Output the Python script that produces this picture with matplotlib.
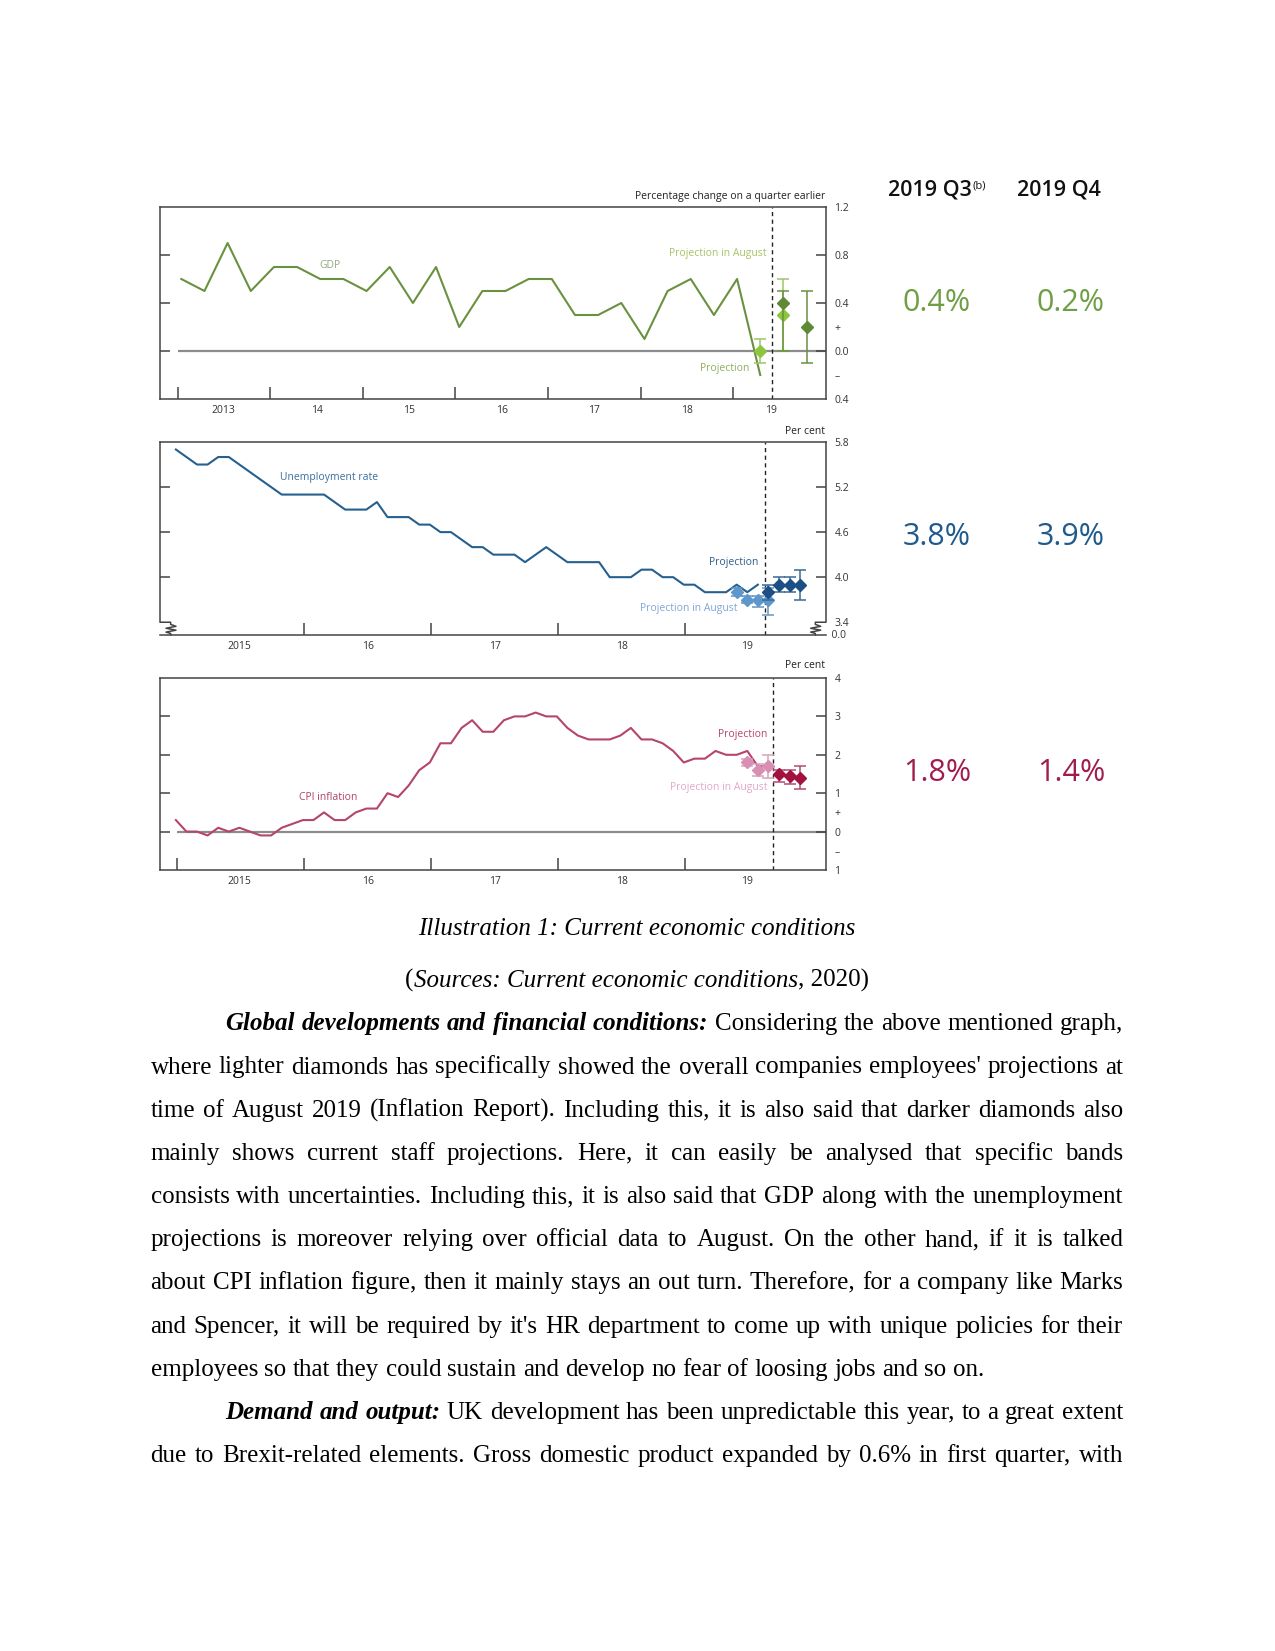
import matplotlib
matplotlib.use('Agg')
import matplotlib.pyplot as plt
import numpy as np

plt.rcParams['font.family'] = ['Open Sans', 'DejaVu Sans']

# --- Data ---
# GDP, % change on a quarter earlier, 2013 Q1 .. 2019 Q2
gdp_start = 2013
gdp = [0.6, 0.5, 0.9, 0.5, 0.7, 0.7, 0.6, 0.6, 0.5, 0.7, 0.4, 0.7,
       0.2, 0.5, 0.5, 0.6, 0.6, 0.3, 0.3, 0.4, 0.1, 0.5, 0.6, 0.3,
       0.6, -0.2]
gdp_aug_q = [25, 26]            # quarter index from 2013 Q1 (2019 Q2, Q3)
gdp_aug = [0.0, 0.3]
gdp_aug_lo = [-0.1, 0.0]
gdp_aug_hi = [0.1, 0.6]
gdp_proj_q = [26, 27]           # 2019 Q3, Q4
gdp_proj = [0.4, 0.2]
gdp_proj_lo = [0.0, -0.1]
gdp_proj_hi = [0.5, 0.5]

# Unemployment rate, per cent, monthly Jan 2015 .. Aug 2019
unemp_start = 2015
unemp = [5.7, 5.6, 5.5, 5.5, 5.6, 5.6, 5.5, 5.4, 5.3, 5.2, 5.1, 5.1,
         5.1, 5.1, 5.1, 5.0, 4.9, 4.9, 4.9, 5.0, 4.8, 4.8, 4.8, 4.7,
         4.7, 4.6, 4.6, 4.5, 4.4, 4.4, 4.3, 4.3, 4.3, 4.2, 4.3, 4.4,
         4.3, 4.2, 4.2, 4.2, 4.2, 4.0, 4.0, 4.0, 4.1, 4.1, 4.0, 4.0,
         3.9, 3.9, 3.8, 3.8, 3.8, 3.9, 3.8, 3.9]
unemp_aug_m = [53, 54, 55, 56]
unemp_aug = [3.8, 3.7, 3.7, 3.7]
unemp_aug_lo = [3.75, 3.65, 3.6, 3.5]
unemp_aug_hi = [3.85, 3.75, 3.75, 3.85]
unemp_proj_m = [56, 57, 58, 59]
unemp_proj = [3.8, 3.9, 3.9, 3.9]
unemp_proj_lo = [3.7, 3.8, 3.8, 3.7]
unemp_proj_hi = [3.9, 4.0, 4.0, 4.1]

# CPI inflation, per cent, monthly Jan 2015 .. Sep 2019
cpi_start = 2015
cpi = [0.3, 0.0, 0.0, -0.1, 0.1, 0.0, 0.1, 0.0, -0.1, -0.1, 0.1, 0.2,
       0.3, 0.3, 0.5, 0.3, 0.3, 0.5, 0.6, 0.6, 1.0, 0.9, 1.2, 1.6,
       1.8, 2.3, 2.3, 2.7, 2.9, 2.6, 2.6, 2.9, 3.0, 3.0, 3.1, 3.0,
       3.0, 2.7, 2.5, 2.4, 2.4, 2.4, 2.5, 2.7, 2.4, 2.4, 2.3, 2.1,
       1.8, 1.9, 1.9, 2.1, 2.0, 2.0, 2.1, 1.7, 1.7]
cpi_aug_m = [54, 55, 56]
cpi_aug = [1.8, 1.6, 1.7]
cpi_aug_lo = [1.7, 1.45, 1.4]
cpi_aug_hi = [1.9, 1.75, 2.0]
cpi_proj_m = [57, 58, 59]
cpi_proj = [1.5, 1.45, 1.4]
cpi_proj_lo = [1.3, 1.25, 1.1]
cpi_proj_hi = [1.6, 1.6, 1.7]

# tick labels
gdp_xlabels = ['2013', '14', '15', '16', '17', '18', '19']
monthly_xlabels = ['2015', '16', '17', '18', '19']
gdp_ylab_pos = [1.2, 0.8, 0.4, 0.2, 0.0, -0.2, -0.4]
gdp_ylabels = ['1.2', '0.8', '0.4', '+', '0.0', '\u2013', '0.4']
unemp_ylab_pos = [5.8, 5.2, 4.6, 4.0, 3.4]
unemp_ylabels = ['5.8', '5.2', '4.6', '4.0', '3.4']
cpi_ylab_pos = [4, 3, 2, 1, 0.5, 0, -0.5, -1]
cpi_ylabels = ['4', '3', '2', '1', '+', '0', '\u2013', '1']

# right-hand table
col_heads = ['2019 Q3', '2019 Q4']
q3_vals = ['0.4%', '3.8%', '1.8%']
q4_vals = ['0.2%', '3.9%', '1.4%']

W, H = 1275, 1651
fig = plt.figure(figsize=(W / 100, H / 100), dpi=100)
fig.patch.set_facecolor('white')
renderer = fig.canvas.get_renderer()


def fx(px):
    return px / W


def fy(py):
    return 1 - py / H


def box(top, bottom, left=160, right=826):
    return [fx(left), fy(bottom), (right - left) / W, (bottom - top) / H]


def qx(q):
    return gdp_start + np.asarray(q) / 4 + 0.04


def mx(m, start):
    return start + np.asarray(m) / 12 - 0.01


def setup(ax, xlim, ylim, year_ticks, label_pos, labels, ytick_marks, ylab_pos, ylabels):
    ax.set_xlim(*xlim)
    ax.set_ylim(*ylim)
    for s in ax.spines.values():
        s.set_color('#444444')
        s.set_linewidth(1.1)
    ax.xaxis.remove_overlapping_locs = False
    ax.yaxis.remove_overlapping_locs = False
    ax.set_xticks(year_ticks)
    ax.set_xticklabels([])
    ax.set_xticks(label_pos, minor=True)
    ax.set_xticklabels(labels, minor=True)
    ax.tick_params(axis='x', which='major', direction='in', length=9, width=1.1,
                   color='#444444', top=False)
    ax.tick_params(axis='x', which='minor', length=0, labelsize=7.5, pad=4,
                   labelcolor='#333333', top=False)
    ax.set_yticks(ytick_marks)
    ax.set_yticklabels([])
    ax.set_yticks(ylab_pos, minor=True)
    ax.set_yticklabels(ylabels, minor=True)
    ax.tick_params(axis='y', which='major', direction='in', length=7, width=1.1,
                   color='#444444', left=True, right=True, labelleft=False,
                   labelright=False)
    ax.tick_params(axis='y', which='minor', length=0, left=False, right=False,
                   labelleft=False, labelright=True, labelsize=7.5, pad=6,
                   labelcolor='#333333')


def proj(ax, x, y, lo, hi, color, ecolor, z):
    y = np.asarray(y)
    err = [y - np.asarray(lo), np.asarray(hi) - y]
    ax.errorbar(x, y, yerr=err, fmt='D', ms=6.5, color=color, mec=color,
                ecolor=ecolor, elinewidth=1.1, capsize=4.5, capthick=1.1, zorder=z)


# ---------------- GDP ----------------
ax1 = fig.add_axes(box(207, 399))
setup(ax1, (2012.81, 2020.0), (-0.4, 1.2), list(range(2013, 2020)),
      [2013.49, 2014.5, 2015.5, 2016.5, 2017.5, 2018.5, 2019.41], gdp_xlabels,
      [0.0, 0.4, 0.8], gdp_ylab_pos, gdp_ylabels)
ax1.hlines(0, 2013.0, 2020.0, color='#8c8c8c', lw=1.6, zorder=1)
ax1.axvline(2019.42, color='#222222', lw=1.0, ls=(0, (3, 2.5)), zorder=2)
ax1.plot(qx(np.arange(len(gdp))), gdp, color='#6a9140', lw=1.5, zorder=3)
proj(ax1, qx(gdp_aug_q), gdp_aug, gdp_aug_lo, gdp_aug_hi, '#8cc63f', '#9fc56a', 4)
proj(ax1, qx(gdp_proj_q), gdp_proj, gdp_proj_lo, gdp_proj_hi, '#5e8a34', '#6a9140', 5)
ax1.text(2014.64, 0.71, 'GDP', color='#93aa7e', fontsize=7.5, ha='center', va='center')
ax1.text(2019.36, 0.81, 'Projection in August', color='#a3c466', fontsize=7.5,
         ha='right', va='center')
ax1.text(2019.17, -0.15, 'Projection', color='#8fae5c', fontsize=7.5, ha='right',
         va='center')
fig.text(fx(825), fy(197), 'Percentage change on a quarter earlier', fontsize=7.5,
         ha='right', va='center', color='#222222')

# ---------------- Unemployment ----------------
ax2 = fig.add_axes(box(442, 635))
setup(ax2, (2014.865, 2020.11), (3.23, 5.8), list(range(2016, 2020)),
      [2015.49, 2016.5, 2017.5, 2018.5, 2019.49], monthly_xlabels,
      [4.0, 4.6, 5.2], unemp_ylab_pos, unemp_ylabels)
ax2.spines['left'].set_visible(False)
ax2.spines['right'].set_visible(False)
yb = (3.4 - 3.23) / (5.8 - 3.23)
kw = dict(transform=ax2.transAxes, color='#444444', lw=1.1, clip_on=False)
ax2.plot([0, 0, 0.016, 0.016, 0.024, 0.009, 0.024, 0.009, 0.016, 0.016],
         [1, yb, yb, 0.055, 0.045, 0.035, 0.025, 0.015, 0.008, 0], **kw)
ax2.plot([1, 1, 0.984, 0.984, 0.992, 0.977, 0.992, 0.977, 0.984, 0.984],
         [1, yb, yb, 0.055, 0.045, 0.035, 0.025, 0.015, 0.008, 0], **kw)
ax2.text(1.0, 0.0, '  0.0', transform=ax2.transAxes, fontsize=7.5, color='#333333',
         ha='left', va='center')
ax2.axvline(2019.63, color='#222222', lw=1.0, ls=(0, (3, 2.5)), zorder=2)
ax2.plot(mx(np.arange(len(unemp)), unemp_start), unemp, color='#25608f', lw=1.5, zorder=3)
proj(ax2, mx(unemp_aug_m, unemp_start), unemp_aug, unemp_aug_lo, unemp_aug_hi,
     '#5d97cc', '#6a93bd', 4)
proj(ax2, mx(unemp_proj_m, unemp_start), unemp_proj, unemp_proj_lo, unemp_proj_hi,
     '#1c4f85', '#3c6a96', 5)
ax2.text(2015.81, 5.33, 'Unemployment rate', color='#3a6f9e', fontsize=7.5,
         ha='left', va='center')
ax2.text(2019.58, 4.20, 'Projection', color='#2d5d8a', fontsize=7.5, ha='right',
         va='center')
ax2.text(2019.41, 3.58, 'Projection in August', color='#7fa7d4', fontsize=7.5,
         ha='right', va='center')
fig.text(fx(825), fy(431), 'Per cent', fontsize=7.5, ha='right', va='center',
         color='#222222')

# ---------------- CPI ----------------
ax3 = fig.add_axes(box(678, 870))
setup(ax3, (2014.865, 2020.11), (-1, 4), list(range(2015, 2020)),
      [2015.49, 2016.5, 2017.5, 2018.5, 2019.49], monthly_xlabels,
      [0, 1, 2, 3], cpi_ylab_pos, cpi_ylabels)
ax3.hlines(0, 2015.0, 2020.11, color='#8c8c8c', lw=1.6, zorder=1)
ax3.axvline(2019.69, color='#222222', lw=1.0, ls=(0, (3, 2.5)), zorder=2)
ax3.plot(mx(np.arange(len(cpi)), cpi_start), cpi, color='#b5446e', lw=1.5, zorder=3)
proj(ax3, mx(cpi_aug_m, cpi_start), cpi_aug, cpi_aug_lo, cpi_aug_hi,
     '#d98fb4', '#d7a3bd', 4)
proj(ax3, mx(cpi_proj_m, cpi_start), cpi_proj, cpi_proj_lo, cpi_proj_hi,
     '#a3123f', '#b04a6f', 5)
ax3.text(2015.96, 0.90, 'CPI inflation', color='#b0406a', fontsize=7.5, ha='left',
         va='center')
ax3.text(2019.65, 2.52, 'Projection', color='#b8446f', fontsize=7.5, ha='right',
         va='center')
ax3.text(2019.65, 1.14, 'Projection in August', color='#e0aac6', fontsize=7.5,
         ha='right', va='center')
fig.text(fx(825), fy(666), 'Per cent', fontsize=7.5, ha='right', va='center',
         color='#222222')

# ---------------- right-hand table ----------------
t = fig.text(fx(930), fy(190), col_heads[0], fontsize=15.5, weight='semibold',
             ha='center', va='center', color='#111111')
bb = t.get_window_extent(renderer)
fig.text(fx(bb.x1 + 1), (bb.y1 - 1) / H, '(b)', fontsize=8, ha='left', va='top',
         color='#111111')
fig.text(fx(1059), fy(190), col_heads[1], fontsize=15.5, weight='semibold',
         ha='center', va='center', color='#111111')
val_colors = ['#6f9f45', '#1f5a8c', '#a11c4e']
val_y = [303, 537, 773]
for v3, v4, c, y in zip(q3_vals, q4_vals, val_colors, val_y):
    fig.text(fx(937), fy(y), v3, fontsize=22, ha='center', va='center', color=c)
    fig.text(fx(1071), fy(y), v4, fontsize=22, ha='center', va='center', color=c)

# ---------------- body text ----------------
SERIF = 'Liberation Serif'
BODY = 18
N = dict()
I = dict(style='italic')
BI = dict(style='italic', weight='bold')
LEFT, RIGHT, INDENT = 150.5, 1123.3, 225.3


def add_word(x, ybase, s, st):
    return fig.text(fx(x), fy(ybase), s, fontsize=BODY, family=SERIF, ha='left',
                    va='baseline', color='black', **st)


def width(s, st):
    t = add_word(0, 0, s, st)
    w = t.get_window_extent(renderer).width
    t.remove()
    return w


SPACE = width('x x', N) - width('xx', N)


def line(runs, y, x0=LEFT, justify=True):
    words = []
    for txt, st in runs:
        for w in txt.split():
            words.append((w, st))
    ws = [width(w, st) for w, st in words]
    if justify and len(words) > 1:
        gap = (RIGHT - x0 - sum(ws)) / (len(words) - 1)
    else:
        gap = SPACE
    x = x0
    for (w, st), wd in zip(words, ws):
        add_word(x, y, w, st)
        x += wd + gap


def centered(runs, y, cx=637):
    parts = [(txt, st, width(txt, st)) for txt, st in runs]
    total = sum(p[2] for p in parts)
    x = cx - total / 2
    for txt, st, wd in parts:
        add_word(x, y, txt, st)
        x += wd


base = 7
centered([('Illustration 1: Current economic conditions', I)], 927.5 + base)
centered([('(', N), ('Sources: Current economic conditions', I), (', 2020)', N)],
         980 + base)

para = [
    ([('Global developments and financial conditions:', BI),
      ('Considering the above mentioned graph,', N)], INDENT, True),
    ([("where lighter diamonds has specifically showed the overall companies "
       "employees' projections at", N)], LEFT, True),
    ([('time of August 2019 (Inflation Report). Including this, it is also said '
       'that darker diamonds also', N)], LEFT, True),
    ([('mainly shows current staff projections. Here, it can easily be analysed '
       'that specific bands', N)], LEFT, True),
    ([('consists with uncertainties. Including this, it is also said that GDP '
       'along with the unemployment', N)], LEFT, True),
    ([('projections is moreover relying over official data to August. On the '
       'other hand, if it is talked', N)], LEFT, True),
    ([('about CPI inflation figure, then it mainly stays an out turn. Therefore, '
       'for a company like Marks', N)], LEFT, True),
    ([("and Spencer, it will be required by it's HR department to come up with "
       "unique policies for their", N)], LEFT, True),
    ([('employees so that they could sustain and develop no fear of loosing jobs '
       'and so on.', N)], LEFT, False),
    ([('Demand and output:', BI),
      ('UK development has been unpredictable this year, to a great extent', N)],
     INDENT, True),
    ([('due to Brexit-related elements. Gross domestic product expanded by 0.6% '
       'in first quarter, with', N)], LEFT, True),
]
line_y = [1023, 1066.5, 1109.7, 1152.8, 1196, 1239, 1282, 1325.5, 1368.6, 1412, 1455]
for (runs, x0, just), y in zip(para, line_y):
    line(runs, y + base, x0, just)

fig.savefig('out.png', dpi=100, facecolor='white')
